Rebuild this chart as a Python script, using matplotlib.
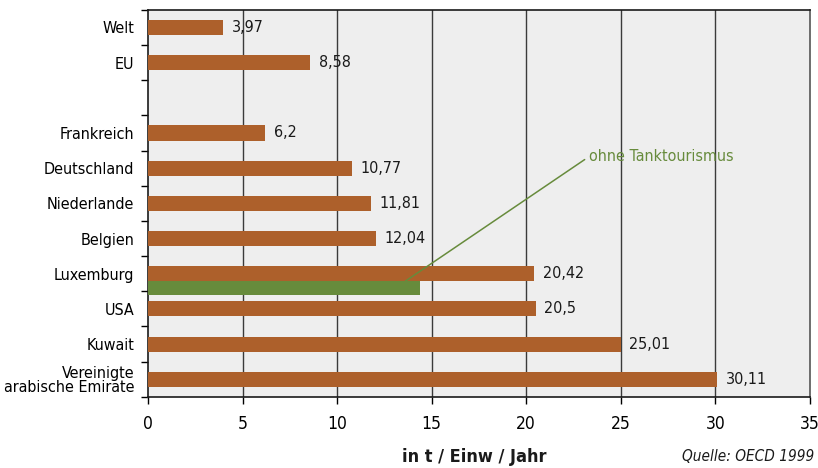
import matplotlib
matplotlib.use("Agg")
import numpy as np
from matplotlib import pyplot as plt

categories = ["Welt", "EU", "", "Frankreich", "Deutschland", "Niederlande",
              "Belgien", "Luxemburg", "USA", "Kuwait",
              "Vereinigte\narabische Emirate"]
values = [3.97, 8.58, None, 6.2, 10.77, 11.81, 12.04, 20.42, 20.5, 25.01, 30.11]
lux_without_fuel_tourism = 14.4
note_text = "ohne Tanktourismus"
x_ticks = [0, 5, 10, 15, 20, 25, 30, 35]

BROWN = "#ad602b"
GREEN = "#678b3c"
BG = "#eeeeee"

plt.rcParams['font.family'] = ['DejaVu Sans']
plt.rcParams['font.stretch'] = 'condensed'
plt.rcParams['font.size'] = 11

fig = plt.figure(figsize=(8.18, 4.68), dpi=100)
ax = fig.add_axes([0.181, 0.152, 0.809, 0.827])
ax.set_facecolor(BG)

y = np.arange(len(categories))
bar_h = 0.43
for i, v in enumerate(values):
    if v is None:
        continue
    ax.barh(y[i], v, height=bar_h, color=BROWN, zorder=3)
    ax.text(v + 0.45, y[i], f"{v:g}".replace(".", ","), va="center", ha="left",
            fontsize=11.5, color="#1a1a1a", zorder=4)

# Luxemburg without fuel tourism, drawn just below the main bar
lux = categories.index("Luxemburg")
green_h = 0.40
ax.barh(y[lux] + bar_h / 2 + green_h / 2, lux_without_fuel_tourism, height=green_h,
        color=GREEN, zorder=3)

ax.annotate(note_text, xy=(13.6, y[lux] + bar_h / 2), xytext=(23.3, 3.68),
            color=GREEN, fontsize=11.5, ha="left", va="center",
            arrowprops=dict(arrowstyle="-", color=GREEN, lw=1.1,
                            shrinkA=1, shrinkB=0, relpos=(0, 0.5)),
            zorder=5)

ax.set_xlim(0, 35)
ax.set_ylim(len(categories) - 0.5, -0.5)
ax.set_xticks(x_ticks)
ax.set_xticklabels([str(t) for t in x_ticks], fontsize=12.5)
ax.set_yticks(y)
ax.set_yticklabels(categories, fontsize=11.5, linespacing=0.95)
ax.set_yticks(np.arange(-0.5, len(categories), 1.0), minor=True)
ax.tick_params(axis="y", which="major", length=0, pad=10)
ax.tick_params(axis="y", which="minor", length=5, width=1, direction="out")
ax.tick_params(axis="x", length=5, width=1, direction="out", pad=8)

for t in x_ticks[1:-1]:
    ax.axvline(t, color="#3a3a3a", lw=1, zorder=1)

for s in ax.spines.values():
    s.set_color("#1a1a1a")
    s.set_linewidth(1.2)
ax.spines["right"].set_color("#555555")

fig.text(0.58, 0.004, "in t / Einw / Jahr", ha="center", va="bottom",
         fontsize=13, fontweight="bold", color="#1a1a1a")
fig.text(0.996, 0.008, "Quelle: OECD 1999", ha="right", va="bottom",
         fontsize=11, fontstyle="italic", color="#1a1a1a")

fig.savefig("out.png", dpi=100)
